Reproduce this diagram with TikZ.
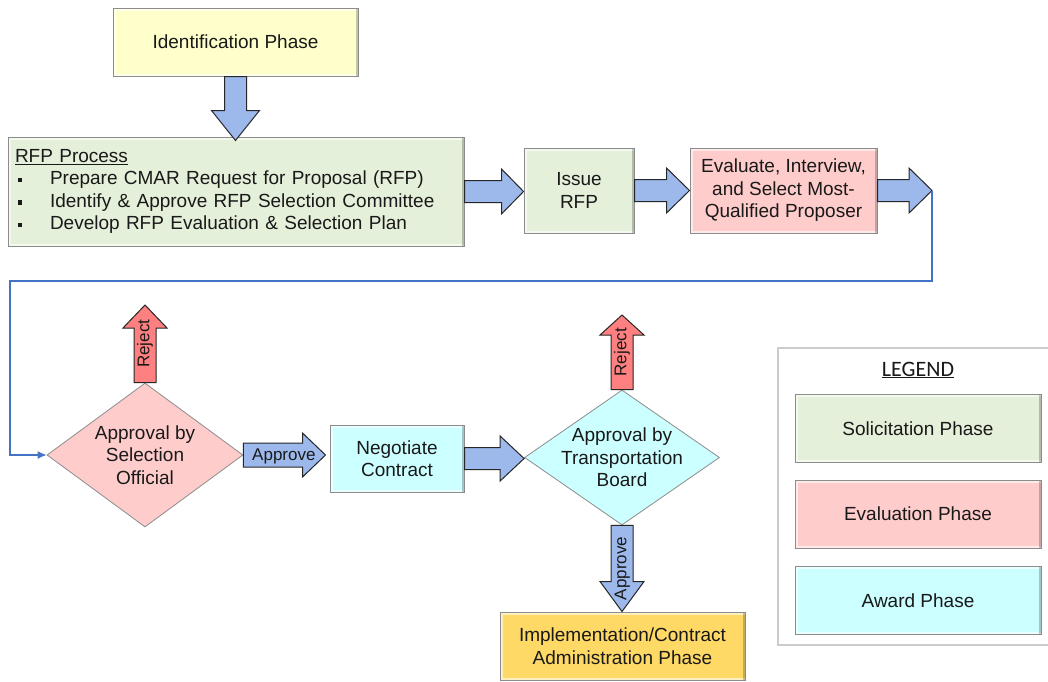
\documentclass[tikz,border=0pt]{standalone}
\usepackage{fontspec}
\setmainfont{Liberation Sans}
\newfontfamily\legendfont{Carlito}
\usetikzlibrary{shapes.geometric,calc,arrows.meta}

\definecolor{idfill}{HTML}{FFFFCC}
\definecolor{solfill}{HTML}{E5F0DA}
\definecolor{evalfill}{HTML}{FFCCCC}
\definecolor{awdfill}{HTML}{CCFFFF}
\definecolor{implfill}{HTML}{FFD966}
\definecolor{flowblue}{HTML}{9DB9EC}
\definecolor{rejred}{HTML}{FF8080}
\definecolor{linkblue}{HTML}{4472C4}
\definecolor{rimgray}{HTML}{8C8C8C}

\newcommand{\bulletitem}{\makebox[35pt][l]{\hspace{3pt}\rule[2.5pt]{4.5pt}{4.5pt}}}

\tikzset{
  x=1pt, y=-1pt,
  every node/.style={font=\fontsize{19}{22.5}\selectfont, text=black!90},
  % beveled process box
  phasebox/.style={rectangle, draw=rimgray, line width=1pt, fill=#1,
    align=center, inner sep=0pt,
    path picture={
      \draw[white, opacity=0.6, line width=5pt]
        (path picture bounding box.south east) -- (path picture bounding box.south west)
        -- (path picture bounding box.north west) -- (path picture bounding box.north east);
      \draw[black, opacity=0.22, line width=5pt]
        (path picture bounding box.north east) -- (path picture bounding box.south east);
    }},
  decision/.style={diamond, draw=rimgray, line width=0.8pt, fill=#1, inner sep=0pt},
  decisiontext/.style={align=center, inner sep=0pt},
  arrowlabel/.style={font=\fontsize{17}{20}\selectfont, inner sep=0pt},
  blockfill/.style={draw=black!85, line width=1pt, fill=#1, line join=miter},
  % block arrows: half shaft width, half head width, head length
  rblock/.style n args={3}{to path={let \p1=(\tikztostart), \p2=(\tikztotarget) in
    ({\x1},{\y1+#1}) -- ({\x2-#3},{\y1+#1}) -- ({\x2-#3},{\y1+#2}) -- ({\x2},{\y1})
    -- ({\x2-#3},{\y1-#2}) -- ({\x2-#3},{\y1-#1}) -- ({\x1},{\y1-#1}) -- cycle}},
  dblock/.style n args={3}{to path={let \p1=(\tikztostart), \p2=(\tikztotarget) in
    ({\x1+#1},{\y1}) -- ({\x1+#1},{\y2+#3}) -- ({\x1+#2},{\y2+#3}) -- ({\x1},{\y2})
    -- ({\x1-#2},{\y2+#3}) -- ({\x1-#1},{\y2+#3}) -- ({\x1-#1},{\y1}) -- cycle}},
  ublock/.style n args={3}{to path={let \p1=(\tikztostart), \p2=(\tikztotarget) in
    ({\x1+#1},{\y1}) -- ({\x1+#1},{\y2-#3}) -- ({\x1+#2},{\y2-#3}) -- ({\x1},{\y2})
    -- ({\x1-#2},{\y2-#3}) -- ({\x1-#1},{\y2-#3}) -- ({\x1-#1},{\y1}) -- cycle}},
}

\begin{document}
\begin{tikzpicture}
\useasboundingbox[fill=white] (0,0) rectangle (1048,681);

% ---- process boxes ----
\node[phasebox=idfill, minimum width=245, minimum height=68] (id) at (235.5,42) {Identification Phase};

\node[phasebox=solfill, minimum width=456, minimum height=109, align=left,
      text width=442] (rfp) at (236,191.5)
  {\underline{RFP Process}\\
   \bulletitem Prepare CMAR Request for Proposal (RFP)\\
   \bulletitem Identify \& Approve RFP Selection Committee\\
   \bulletitem Develop RFP Evaluation \& Selection Plan};

\node[phasebox=solfill, minimum width=110, minimum height=85] (issue) at (579,190.5) {Issue\\RFP};
\node[phasebox=evalfill, minimum width=187, minimum height=85] (eval) at (783.5,190.5)
  {Evaluate, Interview,\\and Select Most-\\Qualified Proposer};

% ---- decisions ----
\node[decision=evalfill, minimum width=196, minimum height=144] (d1) at (145,455) {};
\node[decisiontext] (d1text) at (d1.center) {Approval by\\Selection\\Official};
\node[phasebox=awdfill, minimum width=134, minimum height=67] (neg) at (397,458.5)
  {Negotiate\\Contract};
\node[decision=awdfill, minimum width=195, minimum height=135] (d2) at (622,457.5) {};
\node[decisiontext] (d2text) at (d2.center) {Approval by\\Transportation\\Board};
\node[phasebox=implfill, minimum width=245, minimum height=68] (impl) at (622.5,646)
  {Implementation/Contract\\Administration Phase};

% free ends of connectors
\coordinate (evtip) at (932,191);
\coordinate (loopL) at (10,281);
\coordinate (rej1) at (145,305);
\coordinate (rej2) at (622,315);

% ---- block arrows ----
\draw[blockfill=flowblue] (id.south) to[dblock={11pt}{24pt}{30pt}] ([yshift=-4pt]rfp.north);
\draw[blockfill=flowblue] (rfp.east) to[rblock={11pt}{22.5pt}{22pt}] (issue.west);
\draw[blockfill=flowblue] (issue.east) to[rblock={11pt}{22.5pt}{23pt}] (eval.west);
\draw[blockfill=flowblue] (eval.east) to[rblock={11pt}{22.5pt}{23pt}] (evtip);
\draw[blockfill=rejred] (d1.north) to[ublock={11pt}{22pt}{23pt}] (rej1);
\draw[blockfill=flowblue] (d1.east) to[rblock={12pt}{22pt}{23pt}] ([xshift=-4pt]neg.west);
\draw[blockfill=flowblue] (neg.east) to[rblock={11pt}{22.5pt}{24pt}] (d2.west);
\draw[blockfill=rejred] (d2.north) to[ublock={11pt}{22pt}{20pt}] (rej2);
\draw[blockfill=flowblue] (d2.south) to[dblock={11pt}{22pt}{30pt}] (impl.north);

% ---- arrow labels ----
\node[arrowlabel, rotate=90] (rejlab1) at ($(d1.north)!0.5!(rej1)$) {Reject};
\node[arrowlabel, rotate=90] (rejlab2) at ($(d2.north)!0.5!(rej2)$) {Reject};
\node[arrowlabel] (applab1) at ($(d1.east)!0.47!(neg.west)$) {Approve};
\node[arrowlabel, rotate=90] (applab2) at ($(d2.south)!0.5!(impl.north)$) {Approve};

% ---- feedback line to the selection official ----
\draw[linkblue, line width=1.3pt, -{Latex[length=9pt,width=8pt]}]
  (evtip) |- (loopL) |- (d1.west);

% ---- legend ----
\draw[draw=black!20, line width=1.5pt, fill=white] (778,348) rectangle (1054,645);
\node[font=\legendfont\fontsize{22}{26}\selectfont] (legtitle) at (918,370) {\underline{LEGEND}};
\node[phasebox=solfill, minimum width=246, minimum height=68] (lsol) at (918,428.5) {Solicitation Phase};
\node[phasebox=evalfill, minimum width=246, minimum height=68] (leval) at (918,514) {Evaluation Phase};
\node[phasebox=awdfill, minimum width=246, minimum height=68] (lawd) at (918,600.5) {Award Phase};
\end{tikzpicture}
\end{document}
